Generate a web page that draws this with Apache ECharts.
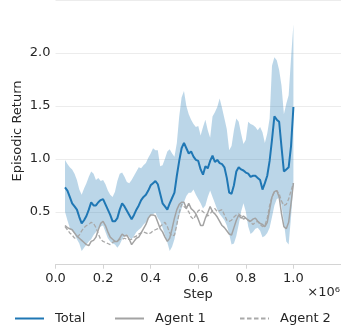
<!DOCTYPE html>
<html><head><meta charset="utf-8">
<script src="https://cdn.jsdelivr.net/npm/echarts@6/dist/echarts.min.js"></script>
<style>html,body{margin:0;padding:0;background:#fff}#c{width:341px;height:330px}</style>
</head><body><div id="c"></div>
<script>
const steps = [0.04,0.05,0.06,0.07,0.08,0.09,0.10,0.11,0.12,0.13,0.14,0.15,0.16,0.17,0.18,0.19,0.20,0.21,0.22,0.23,0.24,0.25,0.26,0.27,0.28,0.29,0.30,0.31,0.32,0.33,0.34,0.35,0.36,0.37,0.38,0.39,0.40,0.41,0.42,0.43,0.44,0.45,0.46,0.47,0.48,0.49,0.50,0.51,0.52,0.53,0.54,0.55,0.56,0.57,0.58,0.59,0.60,0.61,0.62,0.63,0.64,0.65,0.66,0.67,0.68,0.69,0.70,0.71,0.72,0.73,0.74,0.75,0.76,0.77,0.78,0.79,0.80,0.81,0.82,0.83,0.84,0.85,0.86,0.87,0.88,0.89,0.90,0.91,0.92,0.93,0.94,0.95,0.96,0.97,0.98,0.99,1.00];
const total = [0.73,0.70,0.64,0.58,0.55,0.52,0.45,0.39,0.42,0.46,0.52,0.59,0.56,0.56,0.59,0.61,0.62,0.57,0.52,0.47,0.41,0.41,0.44,0.52,0.58,0.55,0.51,0.47,0.43,0.47,0.52,0.56,0.61,0.64,0.66,0.70,0.75,0.77,0.79,0.76,0.67,0.58,0.55,0.52,0.58,0.63,0.68,0.84,0.98,1.10,1.15,1.10,1.05,1.07,1.02,0.99,0.98,0.90,0.85,0.93,0.91,0.98,1.03,0.97,0.99,0.96,0.95,0.92,0.82,0.68,0.67,0.75,0.88,0.92,0.90,0.89,0.87,0.86,0.83,0.84,0.84,0.82,0.80,0.71,0.77,0.84,0.98,1.18,1.40,1.37,1.35,1.11,0.88,0.90,0.92,1.12,1.49];
const upper = [0.99,0.95,0.92,0.90,0.86,0.80,0.71,0.66,0.72,0.77,0.83,0.88,0.86,0.80,0.82,0.79,0.80,0.76,0.70,0.66,0.64,0.69,0.79,0.86,0.87,0.83,0.78,0.77,0.80,0.84,0.88,0.92,0.91,0.94,0.96,1.01,1.05,1.10,1.08,1.08,0.93,0.94,1.00,1.07,1.09,1.05,1.02,1.15,1.40,1.58,1.64,1.50,1.42,1.37,1.33,1.30,1.31,1.22,1.30,1.37,1.27,1.20,1.40,1.44,1.49,1.57,1.48,1.38,1.28,1.08,1.12,1.27,1.38,1.35,1.24,1.14,1.18,1.35,1.33,1.32,1.30,1.27,1.30,1.25,1.15,1.24,1.38,1.88,1.96,1.93,1.84,1.69,1.42,1.52,1.60,1.95,2.27];
const lower = [0.50,0.42,0.35,0.32,0.29,0.24,0.20,0.13,0.16,0.19,0.22,0.24,0.28,0.31,0.34,0.36,0.37,0.31,0.25,0.22,0.20,0.19,0.16,0.19,0.24,0.27,0.29,0.26,0.24,0.27,0.31,0.33,0.35,0.38,0.40,0.44,0.47,0.48,0.49,0.44,0.41,0.35,0.28,0.21,0.13,0.17,0.24,0.36,0.46,0.53,0.59,0.65,0.68,0.68,0.71,0.66,0.62,0.58,0.53,0.56,0.64,0.70,0.64,0.58,0.52,0.48,0.45,0.42,0.37,0.29,0.19,0.20,0.27,0.38,0.50,0.58,0.50,0.36,0.29,0.31,0.34,0.35,0.32,0.26,0.27,0.30,0.35,0.45,0.56,0.62,0.63,0.56,0.40,0.22,0.19,0.45,0.76];
const agent1 = [0.37,0.35,0.34,0.33,0.30,0.27,0.25,0.23,0.21,0.19,0.18,0.22,0.23,0.26,0.33,0.39,0.41,0.37,0.31,0.26,0.24,0.22,0.22,0.25,0.29,0.27,0.28,0.24,0.19,0.22,0.25,0.26,0.30,0.34,0.38,0.44,0.47,0.47,0.46,0.40,0.34,0.31,0.26,0.22,0.25,0.34,0.44,0.52,0.57,0.59,0.59,0.53,0.58,0.53,0.51,0.48,0.43,0.37,0.37,0.44,0.49,0.55,0.50,0.48,0.45,0.41,0.37,0.35,0.32,0.29,0.28,0.35,0.42,0.47,0.44,0.46,0.44,0.42,0.41,0.43,0.44,0.41,0.39,0.38,0.36,0.40,0.52,0.64,0.69,0.70,0.64,0.48,0.36,0.34,0.40,0.58,0.77];
const agent2 = [0.36,0.33,0.30,0.28,0.25,0.26,0.28,0.32,0.35,0.37,0.38,0.40,0.39,0.35,0.29,0.24,0.22,0.21,0.20,0.19,0.21,0.22,0.22,0.24,0.24,0.25,0.24,0.24,0.24,0.26,0.27,0.29,0.30,0.31,0.30,0.29,0.30,0.32,0.33,0.34,0.36,0.38,0.40,0.36,0.30,0.27,0.28,0.38,0.49,0.57,0.55,0.53,0.50,0.45,0.43,0.47,0.51,0.52,0.50,0.48,0.46,0.48,0.51,0.53,0.50,0.51,0.52,0.47,0.42,0.41,0.42,0.45,0.47,0.48,0.46,0.43,0.44,0.42,0.40,0.38,0.40,0.41,0.38,0.36,0.37,0.44,0.56,0.64,0.69,0.70,0.67,0.60,0.56,0.57,0.62,0.70,0.77];
const xTicks = [0, 0.2, 0.4, 0.6, 0.8, 1.0];
const yTicks = [0.5, 1.0, 1.5, 2.0];
const seriesNames = ['Total', 'Agent 1', 'Agent 2'];

const pair = arr => steps.map((s, i) => [s, arr[i]]);
const FONT = 'DejaVu Sans';
const TXT = '#262626';
const solidIcon = 'path://M0,0H29V2H0Z';
const dashIcon = 'path://M0,0H4.5V2H0Z M7,0H11.5V2H7Z M14,0H18.5V2H14Z M21,0H25.5V2H21Z M28,0H29V2H28Z';
const legendLefts = [15, 115, 240];
const icons = [solidIcon, solidIcon, dashIcon];

const legends = seriesNames.map((n, i) => ({
  data: [{name: n, icon: icons[i]}],
  left: legendLefts[i], top: 312, padding: 0, itemWidth: 29, itemHeight: 2,
  textStyle: {color: TXT, fontFamily: FONT, fontSize: 13, padding: [0, 0, 0, 6]}
}));

const chart = echarts.init(document.getElementById('c'), null, {renderer: 'canvas'});
chart.setOption({
  animation: false,
  backgroundColor: '#fff',
  grid: {left: 55.5, top: -15.3, bottom: 65.3, right: -42.1, containLabel: false},
  xAxis: {
    type: 'value', min: 0, max: 1.2, interval: 0.2,
    axisLine: {show: true, lineStyle: {color: '#d4d4d4', width: 1}},
    axisTick: {show: true, length: 4, lineStyle: {color: '#d4d4d4'}, customValues: xTicks},
    axisLabel: {customValues: xTicks, formatter: v => v.toFixed(1), color: TXT, fontFamily: FONT, fontSize: 13, margin: 7},
    splitLine: {show: false}
  },
  yAxis: {
    type: 'value', min: 0, max: 2.5, interval: 0.5,
    axisLine: {show: false}, axisTick: {show: false},
    axisLabel: {customValues: yTicks, formatter: v => v.toFixed(1), color: TXT, fontFamily: FONT, fontSize: 13, margin: 5},
    splitLine: {show: true, lineStyle: {color: '#ececec', width: 1}}
  },
  legend: legends,
  graphic: [
    {type: 'text', x: 198, y: 295, style: {text: 'Step', fill: TXT, font: '13px "DejaVu Sans"', textAlign: 'center', textVerticalAlign: 'middle'}},
    {type: 'text', x: 340, y: 293, style: {text: '×10⁶', fill: TXT, font: '13px "DejaVu Sans"', textAlign: 'right', textVerticalAlign: 'middle'}},
    {type: 'text', x: 17.5, y: 131, rotation: Math.PI / 2, style: {text: 'Episodic Return', fill: TXT, font: '13px "DejaVu Sans"', textAlign: 'center', textVerticalAlign: 'middle'}}
  ],
  series: [
    {
      name: 'band', type: 'custom', silent: true, z: 1,
      data: [0],
      renderItem: (params, api) => {
        const pts = [];
        for (let i = 0; i < steps.length; i++) pts.push(api.coord([steps[i], upper[i]]));
        for (let i = steps.length - 1; i >= 0; i--) pts.push(api.coord([steps[i], lower[i]]));
        return {type: 'polygon', shape: {points: pts}, style: {fill: 'rgba(31,119,180,0.3)'}};
      }
    },
    {name: 'Agent 2', type: 'line', z: 2, data: pair(agent2), symbol: 'none', lineStyle: {color: '#a9a9a9', width: 1.3, type: [4, 2]}, itemStyle: {color: '#a9a9a9'}},
    {name: 'Agent 1', type: 'line', z: 3, data: pair(agent1), symbol: 'none', lineStyle: {color: '#a3a3a3', width: 1.5}, itemStyle: {color: '#a3a3a3'}},
    {name: 'Total', type: 'line', z: 4, data: pair(total), symbol: 'none', lineStyle: {color: '#1f77b4', width: 2}, itemStyle: {color: '#1f77b4'}}
  ]
});
</script></body></html>
